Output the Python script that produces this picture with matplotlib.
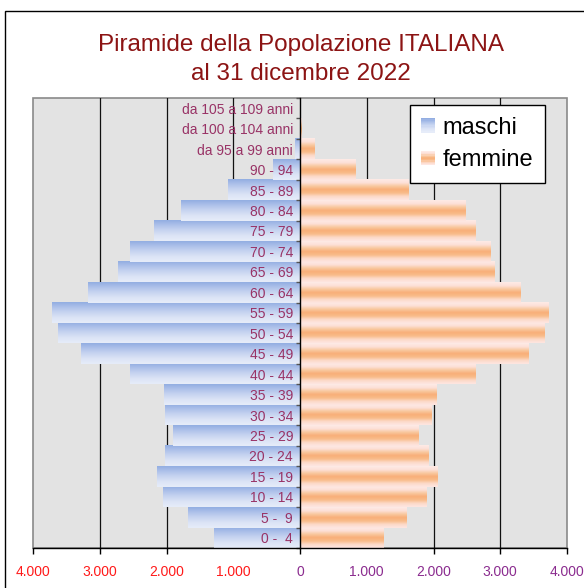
"""Piramide della popolazione italiana, 31 dicembre 2022."""
import matplotlib
matplotlib.use("Agg")
import matplotlib.pyplot as plt
import numpy as np
from matplotlib.colors import to_rgb
from matplotlib.legend_handler import HandlerBase
from matplotlib.patches import Patch, Rectangle

plt.rcParams["font.family"] = ["Liberation Sans", "DejaVu Sans"]

# age classes, bottom to top
AGE_CLASSES = ["0 -  4", "5 -  9", "10 - 14", "15 - 19", "20 - 24", "25 - 29",
               "30 - 34", "35 - 39", "40 - 44", "45 - 49", "50 - 54", "55 - 59",
               "60 - 64", "65 - 69", "70 - 74", "75 - 79", "80 - 84", "85 - 89",
               "90 - 94", "da 95 a 99 anni", "da 100 a 104 anni",
               "da 105 a 109 anni"]
MASCHI = [1290, 1680, 2050, 2140, 2020, 1900, 2020, 2040, 2540, 3280, 3620,
          3710, 3170, 2720, 2540, 2180, 1780, 1080, 400, 80, 5, 0]
FEMMINE = [1250, 1600, 1890, 2060, 1920, 1770, 1970, 2040, 2630, 3420, 3660,
           3730, 3300, 2920, 2860, 2630, 2480, 1630, 830, 220, 20, 0]
X_TICKS = [-4000, -3000, -2000, -1000, 0, 1000, 2000, 3000, 4000]

TITLE_COLOR = "#8C1414"
YLABEL_COLOR = "#993366"
LEFT_TICK_COLOR = "#FF1A1A"
RIGHT_TICK_COLOR = "#8B2C8F"

# vertical gradients, top -> bottom
BLUE_GRAD = ["#93AEE2", "#AFC2EA", "#C8D5F1", "#DCE4F6", "#E6ECF9"]
ORANGE_GRAD = ["#FEEAE6", "#FDE0D8", "#F9C9A0", "#F8AE78", "#F9BC8A",
               "#FCD9C8", "#FEE6E1"]


def _gradient(colors, n=40):
    cols = np.array([to_rgb(c) for c in colors])
    pos = np.linspace(0, 1, len(cols))
    t = np.linspace(0, 1, n)
    arr = np.stack([np.interp(t, pos, cols[:, k]) for k in range(3)], axis=-1)
    return arr[:, None, :]


class GradientHandler(HandlerBase):
    def __init__(self, colors):
        super().__init__()
        self.colors = colors

    def create_artists(self, legend, orig_handle, xdescent, ydescent,
                       width, height, fontsize, trans):
        grad = _gradient(self.colors, 12)[:, 0, :]
        n = len(grad)
        h = height / n
        arts = []
        for i, c in enumerate(grad):
            y = -ydescent + height - (i + 1) * h
            arts.append(Rectangle((-xdescent, y), width, h * 1.05, facecolor=c,
                                  edgecolor="none", transform=trans))
        return arts


fig = plt.figure(figsize=(5.84, 5.88), dpi=100)
ax = fig.add_axes([33 / 584, 1 - 548 / 588, (567 - 33) / 584, 450 / 588])
ax.set_facecolor("#E3E3E3")

ypos = np.arange(len(AGE_CLASSES))
blue = _gradient(BLUE_GRAD)
orange = _gradient(ORANGE_GRAD)
for y, m, f in zip(ypos, MASCHI, FEMMINE):
    if m > 0:
        ax.imshow(blue, extent=[-m, 0, y - 0.5, y + 0.5], aspect="auto",
                  interpolation="bilinear", zorder=1)
    if f > 0:
        ax.imshow(orange, extent=[0, f, y - 0.5, y + 0.5], aspect="auto",
                  interpolation="bilinear", zorder=1)

# vertical grid below bars
for v in X_TICKS[1:-1]:
    if v != 0:
        ax.axvline(v, color="#111111", linewidth=0.9, zorder=0.5)

ax.set_xlim(X_TICKS[0], X_TICKS[-1])
ax.set_ylim(-0.5, len(AGE_CLASSES) - 0.5)

# frame
ax.patch.set_edgecolor("#8A8A8A")
ax.patch.set_linewidth(1.2)
for side in ("top", "right"):
    ax.spines[side].set_visible(False)
ax.spines["left"].set_position(("data", 0))
ax.spines["left"].set_color("black")
ax.spines["left"].set_linewidth(1.0)
ax.spines["bottom"].set_color("black")
ax.spines["bottom"].set_linewidth(1.0)

# y axis: labels at class centres, small ticks on class boundaries
ax.set_yticks(ypos)
ax.set_yticklabels(AGE_CLASSES, fontsize=10, color=YLABEL_COLOR)
ax.set_yticks(np.arange(len(AGE_CLASSES) + 1) - 0.5, minor=True)
ax.tick_params(axis="y", which="major", length=0, pad=5)
ax.tick_params(axis="y", which="minor", length=3, width=1, color="#555555")

# x axis
ax.set_xticks(X_TICKS)
ax.set_xticklabels([f"{abs(v):,}".replace(",", ".") for v in X_TICKS],
                   fontsize=10)
for v, lab in zip(X_TICKS, ax.get_xticklabels()):
    lab.set_color(LEFT_TICK_COLOR if v < 0 else RIGHT_TICK_COLOR)
ax.tick_params(axis="x", which="major", direction="out", length=4.5,
               width=1, pad=8)
ax.set_xticks([v for v in X_TICKS if abs(v) == 1000], minor=True)
ax.tick_params(axis="x", which="minor", direction="in", length=4.5, width=1)
for v, tick in zip(X_TICKS, ax.xaxis.get_major_ticks()):
    if abs(v) == 1000:
        tick.tick1line.set_visible(False)

# legend
handles = [Patch(label="maschi"), Patch(label="femmine")]
leg = ax.legend(handles=handles, loc="upper right",
                bbox_to_anchor=((545 - 33) / 534, 1 - 7 / 450),
                borderaxespad=0, fontsize=17, frameon=True, fancybox=False,
                framealpha=1, edgecolor="black", handlelength=0.6,
                handleheight=0.55, handletextpad=0.3, labelspacing=0.45,
                borderpad=0.5,
                handler_map={handles[0]: GradientHandler(BLUE_GRAD),
                             handles[1]: GradientHandler(ORANGE_GRAD)})
leg.get_frame().set_linewidth(1.0)

fig.text(301 / 584, 1 - 59.5 / 588,
         "Piramide della Popolazione ITALIANA\nal 31 dicembre 2022",
         ha="center", va="center", fontsize=17.5, color=TITLE_COLOR,
         linespacing=1.45)

# outer chart border (right / bottom edges fall outside the picture)
fig.add_artist(Rectangle((5 / 584, -0.05), 1.0, 1.05 - 11 / 588,
                         transform=fig.transFigure, fill=False,
                         edgecolor="black", linewidth=1.0))

fig.savefig("out.png", dpi=100, facecolor="white")
